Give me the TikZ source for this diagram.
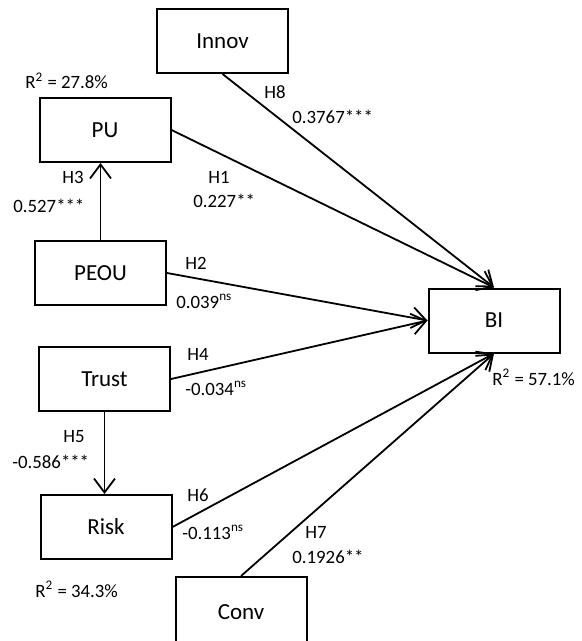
\documentclass[tikz,border=0pt]{standalone}
\usepackage{fontspec}
\setmainfont{Carlito}
\usetikzlibrary{arrows.meta}
\tikzset{
  var_n/.style = {draw=black, line width=1pt, minimum width=65.5pt, minimum height=32pt, inner sep=0pt, font=\fontsize{11.5}{13}\selectfont},
  lbl_n/.style = {anchor=base west, inner sep=0pt, font=\fontsize{9.4}{11}\selectfont},
  path_e/.style = {line width=0.9pt, -{Straight Barb[length=7pt,width=10.5pt,line width=0.9pt]}}
}

\begin{document}
\begin{tikzpicture}[x=0.5pt, y=-0.5pt]
	\useasboundingbox (0,0) rectangle (582,641);
	\node [var_n] (innov) at (222.5,41) {Innov};
	\node [var_n] (pu) at (105,130) {PU};
	\node [var_n] (peou) at (100.5,273) {PEOU};
	\node [var_n] (trust) at (104.5,379) {Trust};
	\node [var_n] (risk) at (106,527) {Risk};
	\node [var_n] (bi) at (494,320.5) {BI};
	\node [var_n, minimum height=35pt] (conv) at (241,612) {Conv};

	\draw [path_e] (innov.south) -- (bi.north);
	\draw [path_e] (pu.east) -- (bi.north);
	\draw [path_e] (peou.east) -- (bi.west);
	\draw [path_e] (trust.east) -- (bi.west);
	\draw [path_e] (risk.east) -- (bi.south);
	\draw [path_e] (conv.north) -- (bi.south);
	\draw [path_e] (peou.north) -- (peou.north |- pu.south);
	\draw [path_e] (trust.south) -- (trust.south |- risk.north);

	\node [lbl_n] (h8) at (264,99) {H8};
	\node [lbl_n] (b8) at (292,124) {0.3767***};
	\node [lbl_n] (h1) at (208,184) {H1};
	\node [lbl_n] (b1) at (193,208) {0.227**};
	\node [lbl_n] (h3) at (62,184) {H3};
	\node [lbl_n] (b3) at (13,213) {0.527***};
	\node [lbl_n] (h2) at (185,270) {H2};
	\node [lbl_n] (b2) at (176,308) {0.039\textsuperscript{ns}};
	\node [lbl_n] (h4) at (187,360) {H4};
	\node [lbl_n] (b4) at (185,395) {-0.034\textsuperscript{ns}};
	\node [lbl_n] (h5) at (63,442) {H5};
	\node [lbl_n] (b5) at (12,468) {-0.586***};
	\node [lbl_n] (h6) at (187,501) {H6};
	\node [lbl_n] (b6) at (182,539) {-0.113\textsuperscript{ns}};
	\node [lbl_n] (h7) at (305,538) {H7};
	\node [lbl_n] (b7) at (292,563) {0.1926**};
	\node [lbl_n] (r2pu) at (25,89) {R\textsuperscript{2} = 27.8\%};
	\node [lbl_n] (r2risk) at (35,597) {R\textsuperscript{2} = 34.3\%};
	\node [lbl_n] (r2bi) at (492,385) {R\textsuperscript{2} = 57.1\%};
\end{tikzpicture}
\end{document}
